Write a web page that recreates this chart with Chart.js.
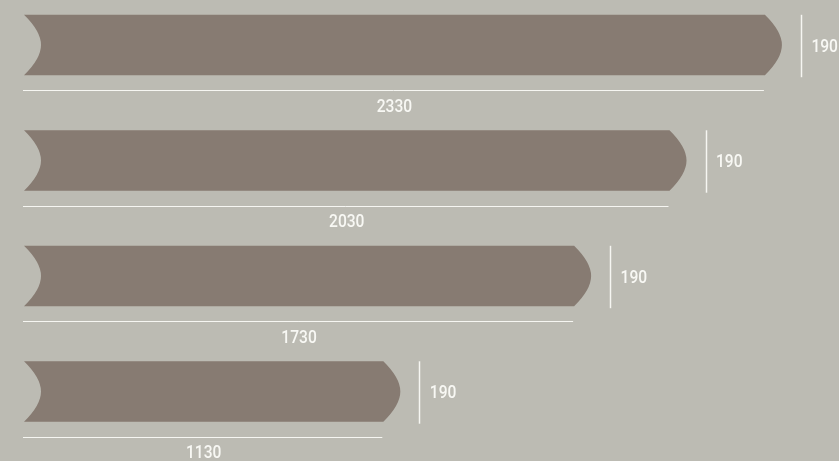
<!DOCTYPE html>
<html><head><meta charset="utf-8">
<script src="https://cdn.jsdelivr.net/npm/chart.js@4.4.0/dist/chart.umd.min.js"></script>
<style>
html,body{margin:0;padding:0;background:#bcbbb3;overflow:hidden}
#wrap{width:839px;height:461px;position:relative}
</style>
</head><body><div id="wrap"><canvas id="c"></canvas></div>
<script>
// Data
const boards = ['Board 1', 'Board 2', 'Board 3', 'Board 4'];
const lengths = [2330, 2030, 1730, 1130];
const widths = [190, 190, 190, 190];
const xMax = 2563;

const BOARD_COLOR = '#877b72';
const LINE_COLOR = '#f6f6f2';
const TEXT_COLOR = '#f8f8f4';
const FONT = '500 19px Roboto, "DejaVu Sans", sans-serif';
const CONDENSE = 0.82;

function condensedText(ctx, text, x, y, align) {
  ctx.save();
  ctx.translate(x, y);
  ctx.scale(CONDENSE, 1);
  ctx.textAlign = align;
  ctx.textBaseline = 'middle';
  ctx.fillText(text, 0, 0);
  ctx.restore();
}

const boardPlugin = {
  id: 'boards',
  afterDatasetsDraw(chart) {
    const ctx = chart.ctx;
    const xs = chart.scales.x;
    const meta = chart.getDatasetMeta(0);
    meta.data.forEach((el, i) => {
      const x0 = el.base;
      const x1 = el.x;
      const th = xs.getPixelForValue(widths[i]) - xs.getPixelForValue(0);
      const yc = el.y;
      const h = th / 2;
      const top = yc - h, bottom = yc + h;
      const d = 17;
      const k = 0.55 * h;
      ctx.save();
      ctx.fillStyle = BOARD_COLOR;
      ctx.beginPath();
      ctx.moveTo(x0, top);
      ctx.lineTo(x1, top);
      ctx.quadraticCurveTo(x1 + d, top + k, x1 + d, yc);
      ctx.quadraticCurveTo(x1 + d, bottom - k, x1, bottom);
      ctx.lineTo(x0, bottom);
      ctx.quadraticCurveTo(x0 + d, bottom - k, x0 + d, yc);
      ctx.quadraticCurveTo(x0 + d, top + k, x0, top);
      ctx.closePath();
      ctx.fill();

      // length dimension line
      ctx.strokeStyle = LINE_COLOR;
      ctx.lineWidth = 1;
      const ly = Math.round(bottom + 15) + 0.5;
      ctx.beginPath();
      ctx.moveTo(x0 - 1, ly);
      ctx.lineTo(x1 - 1, ly);
      ctx.stroke();

      // width dimension line
      const tip = x1 + d;
      const vx = Math.round(tip + 19) + 0.5;
      ctx.lineWidth = 1.5;
      ctx.beginPath();
      ctx.moveTo(vx, top);
      ctx.lineTo(vx, bottom + 2);
      ctx.stroke();

      // labels
      ctx.fillStyle = TEXT_COLOR;
      ctx.font = FONT;
      condensedText(ctx, String(lengths[i]), (x0 + x1) / 2, bottom + 32, 'center');
      condensedText(ctx, String(widths[i]), tip + 29.5, yc + 2, 'left');
      ctx.restore();
    });
  }
};

new Chart(document.getElementById('c'), {
  type: 'bar',
  data: {
    labels: boards,
    datasets: [{
      data: lengths,
      backgroundColor: 'rgba(0,0,0,0)',
      borderWidth: 0,
      barThickness: 60
    }]
  },
  options: {
    indexAxis: 'y',
    responsive: true,
    maintainAspectRatio: false,
    animation: false,
    layout: { padding: { left: 24, right: 0, top: 45, bottom: 69.5 } },
    plugins: { legend: { display: false }, tooltip: { enabled: false } },
    scales: {
      x: { display: false, min: 0, max: xMax },
      y: { display: false, offset: false }
    }
  },
  plugins: [boardPlugin]
});
</script>
</body></html>
